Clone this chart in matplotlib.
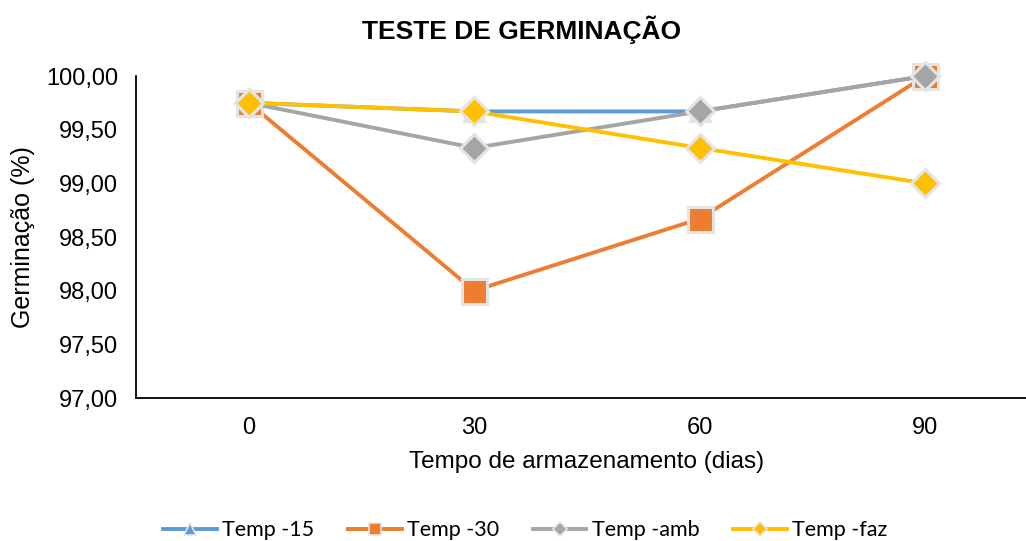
import matplotlib
matplotlib.use("Agg")
import matplotlib.pyplot as plt
from matplotlib.lines import Line2D

days = ["0", "30", "60", "90"]
temp_15 = [99.75, 99.67, 99.67, 100.00]
temp_30 = [99.75, 98.00, 98.67, 100.00]
temp_amb = [99.75, 99.33, 99.67, 100.00]
temp_faz = [99.75, 99.67, 99.33, 99.00]
yticks = [97.0, 97.5, 98.0, 98.5, 99.0, 99.5, 100.0]

series = [
    ("Temp -15", temp_15, "#5B9BD5", "^", 15),
    ("Temp -30", temp_30, "#ED7D31", "s", 18),
    ("Temp -amb", temp_amb, "#A5A5A5", "D", 14),
    ("Temp -faz", temp_faz, "#FFC000", "D", 14),
]

plt.rcParams['font.family'] = ['Liberation Sans', 'DejaVu Sans']
fig = plt.figure(figsize=(10.26, 5.41), dpi=100)
ax = fig.add_axes([0.1326, 0.2643, 0.879, 0.5952])

x = list(range(len(days)))
handles = []
for i, (name, vals, col, mk, ms) in enumerate(series):
    ax.plot(x, vals, color=col, lw=2.8, marker=mk, markersize=ms,
            markerfacecolor=col, markeredgecolor="#E4E4E4", markeredgewidth=2.2,
            zorder=3 + i, clip_on=False, solid_capstyle="round")
    handles.append(Line2D([0], [0], color=col, lw=2.8, marker=mk,
                          markersize=9 if mk != "D" else 7, markerfacecolor=col,
                          markeredgecolor="#E4E4E4", markeredgewidth=1.2))

ax.set_xlim(-0.5, 3.5)
ax.set_ylim(97.0, 100.0)
ax.set_xticks(x)
ax.set_xticklabels(days)
ax.set_yticks(yticks)
ax.set_yticklabels([f"{v:.2f}".replace(".", ",") for v in yticks])
ax.tick_params(axis="both", length=0, labelsize=17, colors="black")
ax.tick_params(axis="x", pad=14)
ax.tick_params(axis="y", pad=13)
for s in ["top", "right"]:
    ax.spines[s].set_visible(False)
for s in ["left", "bottom"]:
    ax.spines[s].set_linewidth(1.3)
    ax.spines[s].set_color("black")

ax.set_xlabel("Tempo de armazenamento (dias)", fontsize=17.5, labelpad=8)
ax.set_ylabel("Germinação (%)", fontsize=18, labelpad=8)
fig.text(0.508, 0.945, "TESTE DE GERMINAÇÃO", ha="center", va="center",
         fontsize=19, fontweight="bold")

fig.legend(handles=[h for h in handles], labels=[s[0] for s in series],
           loc="center", bbox_to_anchor=(0.512, 0.02), ncol=4, frameon=False,
           handlelength=2.5, columnspacing=1.55, handletextpad=0.25,
           prop={"family": "Lato", "size": 15.5})

fig.savefig("out.png", dpi=100)
